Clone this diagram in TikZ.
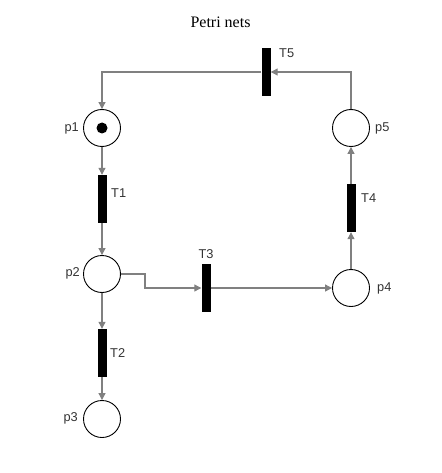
\documentclass[tikz,border=0pt]{standalone}
\usepackage{fontspec}
\setmainfont{Liberation Serif}
\newfontfamily\labfont{Liberation Sans}
\usetikzlibrary{arrows.meta}
\definecolor{edgegray}{HTML}{808080}
\definecolor{labgray}{HTML}{333333}
\begin{document}
\begin{tikzpicture}[x=1pt,y=-1pt,
  place/.style={circle,draw=black,line width=0.9pt,minimum size=37pt,inner sep=0pt},
  trans/.style={rectangle,fill=black,draw=none,minimum width=9pt,minimum height=48pt,inner sep=0pt},
  lab/.style={font=\labfont\fontsize{12.8}{14}\selectfont,text=labgray,inner sep=0pt},
  arc/.style={draw=edgegray,line width=1.1pt,-{Triangle[length=7pt,width=7pt]}},
  token/.style={circle,fill=black,minimum size=11pt,inner sep=0pt}]
\useasboundingbox (0,0) rectangle (441,473);
\node[font=\fontsize{16}{19}\selectfont] (title) at (220.5,22) {Petri nets};
% places
\node[place] (p1) at (102,128) {};
\node[token] (tok) at (102,128) {};
\node[place] (p2) at (102,274) {};
\node[place] (p3) at (102,419) {};
\node[place] (p4) at (351,288) {};
\node[place] (p5) at (351,128) {};
% transitions
\node[trans] (T1) at (102,199) {};
\node[trans] (T2) at (102,353) {};
\node[trans] (T3) at (206,288) {};
\node[trans] (T4) at (351,208) {};
\node[trans] (T5) at (266,72) {};
% labels
\node[lab,anchor=east] (lp1) at (79,128) {p1};
\node[lab,anchor=east] (lp2) at (80,273) {p2};
\node[lab,anchor=east] (lp3) at (78,418) {p3};
\node[lab,anchor=west] (lp4) at (377,288) {p4};
\node[lab,anchor=west] (lp5) at (375,128) {p5};
\node[lab,anchor=west] (lT1) at (111,193) {T1};
\node[lab,anchor=west] (lT2) at (110,353) {T2};
\node[lab] (lT3) at (206,254) {T3};
\node[lab,anchor=west] (lT4) at (361,198) {T4};
\node[lab,anchor=west] (lT5) at (279,53) {T5};
% arcs
\draw[arc] (T5.west) -| (p1.north);
\draw[arc] (p5.north) |- (T5.east);
\draw[arc] (p1) -- (T1);
\draw[arc] (T1) -- (p2);
\draw[arc] (p2) -- (T2);
\draw[arc] (T2) -- (p3);
\coordinate (bend) at (145,274);
\draw[arc] (p2.east) -- (bend) |- (T3.west);
\draw[arc] (T3) -- (p4);
\draw[arc] (p4) -- (T4);
\draw[arc] (T4) -- (p5);
\end{tikzpicture}
\end{document}
